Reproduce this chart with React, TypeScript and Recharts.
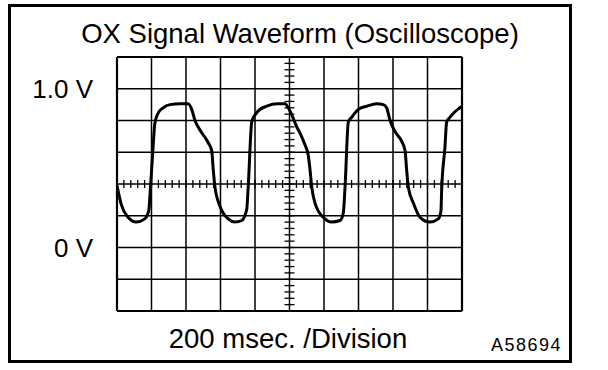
import React from "react";
import {
  ComposedChart,
  Line,
  Scatter,
  XAxis,
  YAxis,
  ReferenceLine,
} from "recharts";

// time in ms (200 ms / division, 10 divisions)
const timeMs = [
  0, 25, 64, 112, 161, 184, 193, 209, 219, 238, 267, 307, 365, 413, 433, 452,
  481, 529, 549, 558, 568, 597, 645, 684, 723, 752, 761, 781, 800, 829, 868,
  926, 974, 993, 1013, 1042, 1061, 1090, 1109, 1119, 1129, 1148, 1196, 1245,
  1293, 1312, 1322, 1341, 1360, 1399, 1448, 1505, 1544, 1563, 1583, 1612, 1650,
  1670, 1679, 1689, 1718, 1757, 1814, 1863, 1878, 1882, 1901, 1911, 1930, 1959,
  1988, 2000,
];
// OX sensor voltage (V)
const volts = [
  0.39, 0.27, 0.19, 0.16, 0.18, 0.23, 0.36, 0.63, 0.78, 0.845, 0.88, 0.9,
  0.905, 0.905, 0.87, 0.8, 0.74, 0.66, 0.61, 0.49, 0.38, 0.26, 0.18, 0.16,
  0.17, 0.24, 0.39, 0.79, 0.835, 0.87, 0.89, 0.905, 0.905, 0.88, 0.835, 0.76,
  0.72, 0.645, 0.58, 0.49, 0.38, 0.28, 0.19, 0.16, 0.17, 0.22, 0.38, 0.79,
  0.82, 0.87, 0.89, 0.905, 0.9, 0.88, 0.8, 0.73, 0.67, 0.61, 0.49, 0.38, 0.28,
  0.19, 0.16, 0.18, 0.23, 0.36, 0.63, 0.79, 0.82, 0.855, 0.88, 0.89,
];

const timeGrid = [0, 200, 400, 600, 800, 1000, 1200, 1400, 1600, 1800, 2000];
const voltGrid = [-0.4, -0.2, 0, 0.2, 0.4, 0.6, 0.8, 1.0, 1.2];

const titleText = "OX Signal Waveform (Oscilloscope)";
const yLabels = [
  { text: "1.0 V", v: 1.0 },
  { text: "0 V", v: 0 },
];
const xLabel = "200 msec. /Division";
const figId = "A58694";

const wave = timeMs.map((t, i) => ({ t, v: volts[i] }));

// minor division marks on the centre cross (5 per division)
const hMinor = Array.from({ length: 51 }, (_, i) => ({ t: i * 40, v: 0.4 }));
const vMinor = Array.from({ length: 41 }, (_, i) => ({
  t: 1000,
  v: Math.round((-0.4 + i * 0.04) * 1000) / 1000,
}));

const W = 608;
const H = 370;
const font = "'Liberation Sans', Arial, Helvetica, sans-serif";

const VTick = (p: any) => (
  <line x1={p.cx} x2={p.cx} y1={p.cy - 4} y2={p.cy + 4} stroke="#000" strokeWidth={1.3} />
);
const HTick = (p: any) => (
  <line x1={p.cx - 5} x2={p.cx + 5} y1={p.cy} y2={p.cy} stroke="#000" strokeWidth={1.3} />
);

export default function App() {
  return (
    <div
      style={{
        position: "absolute",
        left: 0,
        top: 0,
        width: W,
        height: H,
        background: "#fff",
        fontFamily: font,
        color: "#000",
      }}
    >
      <div
        style={{
          position: "absolute",
          left: 8,
          top: 4,
          width: 564,
          height: 359,
          boxSizing: "border-box",
          border: "3.5px solid #000",
        }}
      />
      <div style={{ position: "absolute", left: 0, top: 0 }}>
        <ComposedChart
          width={W}
          height={H}
          margin={{ top: 57, right: 146, bottom: 59, left: 117 }}
        >
          <XAxis
            type="number"
            dataKey="t"
            domain={[0, 2000]}
            ticks={timeGrid}
            hide
            allowDataOverflow
          />
          <YAxis
            type="number"
            dataKey="v"
            domain={[-0.4, 1.2]}
            ticks={voltGrid}
            hide
            allowDataOverflow
          />
          {timeGrid.map((t) => (
            <ReferenceLine
              key={"x" + t}
              x={t}
              stroke="#000"
              strokeWidth={t === 0 || t === 2000 ? 2.2 : 1.5}
              ifOverflow="extendDomain"
            />
          ))}
          {voltGrid.map((v) => (
            <ReferenceLine
              key={"y" + v}
              y={v}
              stroke="#000"
              strokeWidth={v === -0.4 || v === 1.2 ? 2.2 : 1.5}
              ifOverflow="extendDomain"
            />
          ))}
          <Scatter data={hMinor} dataKey="v" shape={VTick} isAnimationActive={false} />
          <Scatter data={vMinor} dataKey="v" shape={HTick} isAnimationActive={false} />
          <Line
            data={wave}
            dataKey="v"
            type="monotone"
            stroke="#000"
            strokeWidth={3}
            dot={false}
            activeDot={false}
            isAnimationActive={false}
          />
        </ComposedChart>
      </div>
      <div
        style={{
          position: "absolute",
          left: 0,
          width: 600,
          top: 18,
          textAlign: "center",
          fontSize: 27.5,
          lineHeight: "32px",
          whiteSpace: "nowrap",
        }}
      >
        {titleText}
      </div>
      {yLabels.map((l) => (
        <div
          key={l.text}
          style={{
            position: "absolute",
            right: W - 93,
            top: 57 + ((1.2 - l.v) / 1.6) * 254 - 16,
            fontSize: 26,
            lineHeight: "32px",
            whiteSpace: "nowrap",
          }}
        >
          {l.text}
        </div>
      ))}
      <div
        style={{
          position: "absolute",
          left: 0,
          width: 576,
          top: 323,
          textAlign: "center",
          fontSize: 27.5,
          lineHeight: "32px",
          whiteSpace: "nowrap",
        }}
      >
        {xLabel}
      </div>
      <div
        style={{
          position: "absolute",
          right: W - 562,
          top: 335,
          fontSize: 18,
          letterSpacing: 1.5,
          lineHeight: "20px",
          whiteSpace: "nowrap",
        }}
      >
        {figId}
      </div>
    </div>
  );
}
